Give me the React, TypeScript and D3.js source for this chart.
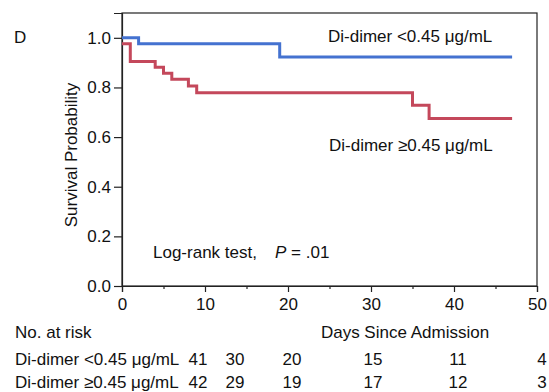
import React, { useEffect, useRef } from 'react';
import * as d3 from 'd3';

// Kaplan-Meier steps: [day, survival after the step]
const lowSteps: [number, number][] = [[0, 1.0], [2, 0.976], [19, 0.923], [47, 0.923]];
const highSteps: [number, number][] = [
  [0, 0.976], [1, 0.905], [4, 0.881], [5, 0.857], [6, 0.833],
  [8, 0.806], [9, 0.779], [35, 0.728], [37, 0.675], [47, 0.675],
];

const xTicks = [0, 10, 20, 30, 40, 50];
const xMinorTicks = [5, 15, 25, 35, 45];
const yTicks = [0, 0.2, 0.4, 0.6, 0.8, 1.0];

const groupLabels = ['Di-dimer <0.45 μg/mL', 'Di-dimer ≥0.45 μg/mL'];
const riskLow = [41, 30, 20, 15, 11, 4];
const riskHigh = [42, 29, 19, 17, 12, 3];

const BLUE = '#4472d0';
const RED = '#c4485b';
const FONT = 'Liberation Sans, Arial, sans-serif';
const FS = 17;

const App: React.FC = () => {
  const svgRef = useRef<SVGSVGElement>(null);

  useEffect(() => {
    const width = 549;
    const height = 392;
    const svg = d3.select(svgRef.current);
    svg.selectAll('*').remove();
    svg.attr('width', width).attr('height', height);

    const margin = { top: 13, left: 122, right: 12, bottom: 106 };
    const x = d3.scaleLinear().domain([0, 50]).range([margin.left, width - margin.right]);
    const y = d3.scaleLinear().domain([0, 1.1]).range([height - margin.bottom, margin.top]);

    // frame
    svg.append('rect')
      .attr('x', x(0)).attr('y', y(1.1))
      .attr('width', x(50) - x(0)).attr('height', y(0) - y(1.1))
      .attr('fill', 'none').attr('stroke', '#222').attr('stroke-width', 1.2);

    // y axis
    const yAxis = svg.append('g')
      .attr('transform', `translate(${x(0)},0)`)
      .call(d3.axisLeft(y).tickValues(yTicks).tickFormat(d3.format('.1f')).tickSize(8).tickPadding(3));
    yAxis.select('.domain').attr('stroke', '#222').attr('stroke-width', 1.2);
    yAxis.selectAll('line').attr('stroke', '#222').attr('stroke-width', 1.2);
    yAxis.selectAll('text').attr('font-size', FS).attr('font-family', FONT).attr('fill', '#111');

    // x axis
    const xAxis = svg.append('g')
      .attr('transform', `translate(0,${y(0)})`)
      .call(d3.axisBottom(x).tickValues(xTicks).tickFormat(d3.format('d')).tickSize(6).tickPadding(6));
    xAxis.select('.domain').attr('stroke', '#222').attr('stroke-width', 1.2);
    xAxis.selectAll('line').attr('stroke', '#222').attr('stroke-width', 1.2);
    xAxis.selectAll('text').attr('font-size', FS).attr('font-family', FONT).attr('fill', '#111');

    const xMinor = svg.append('g')
      .attr('transform', `translate(0,${y(0)})`)
      .call(d3.axisBottom(x).tickValues(xMinorTicks).tickFormat(() => '').tickSize(3));
    xMinor.select('.domain').remove();
    xMinor.selectAll('line').attr('stroke', '#222').attr('stroke-width', 1.2);

    // curves
    const line = d3.line<[number, number]>()
      .x(d => x(d[0]))
      .y(d => y(d[1]))
      .curve(d3.curveStepAfter);

    svg.append('path').datum(highSteps)
      .attr('d', line).attr('fill', 'none').attr('stroke', RED).attr('stroke-width', 3);
    svg.append('path').datum(lowSteps)
      .attr('d', line).attr('fill', 'none').attr('stroke', BLUE).attr('stroke-width', 3);

    const txt = (tx: number, ty: number, s: string, anchor = 'start') =>
      svg.append('text')
        .attr('x', tx).attr('y', ty)
        .attr('font-family', FONT).attr('font-size', FS)
        .attr('fill', '#111').attr('text-anchor', anchor)
        .text(s);

    txt(14, 43, 'D');
    txt(328, 42, groupLabels[0]);
    txt(329, 151, groupLabels[1]);

    txt(153, 258, 'Log-rank test,');
    const pv = txt(275, 258, '');
    pv.append('tspan').attr('font-style', 'italic').text('P');
    pv.append('tspan').text(' = .01');

    svg.append('text')
      .attr('transform', `translate(77,155) rotate(-90)`)
      .attr('text-anchor', 'middle')
      .attr('font-family', FONT).attr('font-size', FS).attr('fill', '#111')
      .text('Survival Probability');

    txt(405, 338, 'Days Since Admission', 'middle');
    txt(15, 338, 'No. at risk');

    // risk table
    const cols = [198, 235, 292, 373, 458, 542];
    txt(15, 365, groupLabels[0]);
    txt(15, 388, groupLabels[1]);
    riskLow.forEach((v, i) => txt(cols[i], 365, String(v), 'middle'));
    riskHigh.forEach((v, i) => txt(cols[i], 388, String(v), 'middle'));
  }, []);

  return (
    <svg ref={svgRef} style={{ position: 'absolute', left: 0, top: 0, background: '#fff' }} />
  );
};

export default App;
